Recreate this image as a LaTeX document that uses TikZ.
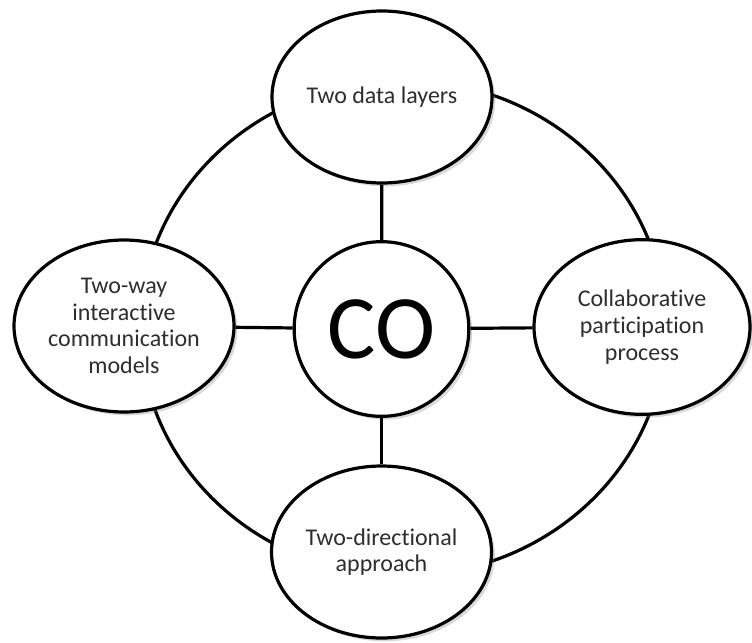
\documentclass[tikz,border=0pt]{standalone}
\usepackage{fontspec}
\setmainfont{Carlito}[RawFeature={-liga;-clig;-dlig;-calt}]
\usetikzlibrary{shapes.geometric,shadows}
\definecolor{txt}{HTML}{2E2E2E}
\tikzset{
  px/.style={x=0.75pt,y=-0.75pt},
  bubble/.style={ellipse, draw=black, line width=2.4pt, fill=white,
    minimum width=165pt, minimum height=129pt, inner sep=0pt,
    align=center, text=txt, font=\fontsize{18}{20}\selectfont,
    drop shadow={shadow xshift=2.5pt, shadow yshift=-2.5pt, opacity=0.3, fill=gray}},
  hub/.style={circle, draw=black, line width=2.4pt, fill=white,
    minimum size=131pt, inner sep=0pt, font=\fontsize{68}{68}\selectfont,
    drop shadow={shadow xshift=2.5pt, shadow yshift=-2.5pt, opacity=0.3, fill=gray}},
  ring/.style={ellipse, draw=black, line width=2.4pt, minimum width=394pt, minimum height=371.5pt, inner sep=0pt},
  spoke/.style={draw=black, line width=2.4pt}
}
\begin{document}
\begin{tikzpicture}[px]
\useasboundingbox (0,0) rectangle (752,642);
\node[ring] (ring) at (403,328) {};
\node[hub] (co) at (381.5,329) {CO};
\node[bubble] (top) at (382,97) {Two data layers};
\node[bubble] (left) at (124,326) {Two-way\\interactive\\communication\\models};
\node[bubble, minimum width=162pt, minimum height=131pt] (right) at (642,327) {Collaborative\\participation\\process};
\node[bubble] (bottom) at (381.5,552) {Two-directional\\approach};
\draw[spoke] (top) -- (co);
\draw[spoke] (bottom) -- (co);
\draw[spoke] (left) -- (co);
\draw[spoke] (right) -- (co);
\end{tikzpicture}
\end{document}
